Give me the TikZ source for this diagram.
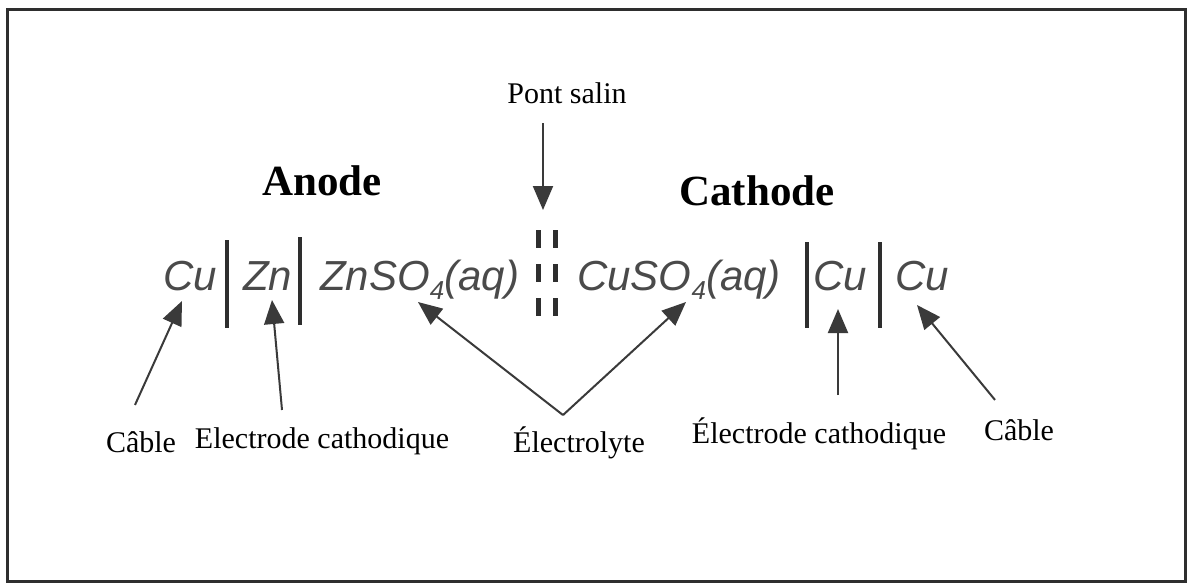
\documentclass[tikz,border=0pt]{standalone}
\usepackage{fontspec}
\setmainfont{Liberation Serif}
\newfontfamily\formfont{Liberation Sans}
\usetikzlibrary{arrows.meta,calc}
\definecolor{Ink}{HTML}{3A3A3A}
\definecolor{FormInk}{HTML}{4A4A4A}
\definecolor{Frame}{HTML}{2E2E2E}
\newcommand{\subfour}{\raisebox{-9pt}{\fontsize{26}{26}\selectfont 4}}
\tikzset{
  formula/.style={anchor=base west, inner sep=0pt, text=FormInk, font=\formfont\itshape\fontsize{42}{42}\selectfont},
  heading/.style={anchor=base, inner sep=0pt, font=\bfseries\fontsize{43}{43}\selectfont},
  partlabel/.style={anchor=base, inner sep=0pt, font=\fontsize{30}{30}\selectfont},
  pointer/.style={-{Triangle[length=24pt,width=20pt]}, line width=2pt, draw=Ink},
  bar/.style={line width=3.5pt, draw=Frame},
  bridge/.style={line width=5pt, draw=Frame, dash pattern=on 18pt off 16pt},
}

\begin{document}
\begin{tikzpicture}[x=1pt,y=-1pt]
    \useasboundingbox (0,0) rectangle (1188,584);
    \draw[line width=3pt, Frame] (7,9) rectangle (1185,581);
    % headings
    \node[heading] (anode) at (322,195) {Anode};
    \node[heading] (cathode) at (757,205) {Cathode};
    \node[partlabel] (pont) at (567,103) {Pont salin};
    % cell notation
    \node[formula] (cuA) at (163,290) {Cu};
    \node[formula] (zn) at (243,290) {Zn};
    \node[formula] (znso) at (320,290) {ZnSO\subfour(aq)};
    \node[formula] (cuso) at (577,290) {CuSO\subfour(aq)};
    \node[formula] (cuB) at (813,290) {Cu};
    \node[formula] (cuC) at (895,290) {Cu};
    \foreach \x/\t/\b in {227/240/328, 300/237/325, 807/242/328, 880/242/328}
      \draw[bar] (\x,\t) -- (\x,\b);
    \foreach \x in {538,555}
      \draw[bridge] (\x,230) -- (\x,318);
    % arrow tips
    \coordinate (bridgetip) at (543,210);
    \coordinate (cuAtip) at (182,301);
    \coordinate (zntip) at (272,300);
    \coordinate (znsotip) at (418,302);
    \coordinate (cusotip) at (686,302);
    \coordinate (cuBtip) at (838,309);
    \coordinate (cuCtip) at (917,305);
    % labels below
    \node[partlabel] (cableL) at (141,452) {Câble};
    \node[partlabel] (elecL) at (322,448) {Electrode cathodique};
    \node[partlabel] (electro) at (579,452) {Électrolyte};
    \node[partlabel] (elecR) at (819,443) {Électrode cathodique};
    \node[partlabel] (cableR) at (1019,440) {Câble};
    % arrows
    \draw[pointer] ([xshift=-24pt,yshift=-20pt]pont.south) -- (bridgetip);
    \draw[pointer] ([xshift=-6pt,yshift=26pt]cableL.north) -- (cuAtip);
    \draw[pointer] ([xshift=-40pt,yshift=17pt]elecL.north) -- (zntip);
    \draw[pointer] ([xshift=-16pt,yshift=11pt]electro.north) -- (znsotip);
    \draw[pointer] ([xshift=-16pt,yshift=11pt]electro.north) -- (cusotip);
    \draw[pointer] ([xshift=19pt,yshift=22pt]elecR.north) -- (cuBtip);
    \draw[pointer] ([xshift=-24pt,yshift=19pt]cableR.north) -- (cuCtip);
\end{tikzpicture}
\end{document}
